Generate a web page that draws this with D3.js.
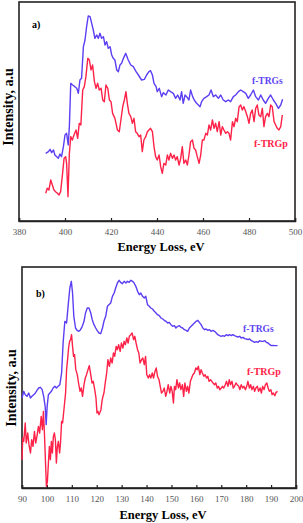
<!DOCTYPE html>
<html>
<head>
<meta charset="utf-8">
<style>
html, body { margin:0; padding:0; background:#fff; }
svg { display:block; }
</style>
</head>
<body>
<div id="chart"></div>
<script src="https://cdn.jsdelivr.net/npm/d3@7"></script>
<script>
// panel a) : energy loss (eV), intensity (a.u)
var aTicks = [380, 400, 420, 440, 460, 480, 500];
var aTRGs = [[391.6,203],[392.8,208],[393.5,215],[394.2,205],[395,213],[395.6,198],[397.1,188],[397.8,201],[398.5,193],[399.3,223],[400,258],[400.7,263],[401.4,228],[401.9,283],[402.5,413],[403.3,408],[404.3,403],[405.1,398],[405.8,383],[406.5,423],[407.2,428],[408,523],[408.7,543],[409.4,583],[410.1,615],[410.9,613],[411.6,593],[412.3,573],[413,548],[413.8,558],[414.5,548],[415.2,563],[415.9,548],[416.7,553],[417.4,528],[418.1,538],[418.8,518],[419.6,523],[420.3,498],[421,488],[421.7,483],[422.5,453],[423.2,448],[423.9,468],[424.6,473],[425.4,488],[426.4,503],[427.5,483],[428.6,468],[429.7,463],[430.9,448],[431.9,438],[433.3,423],[434.5,425],[435.5,438],[436.5,448],[437.2,451],[438,438],[438.7,413],[439.6,403],[440.1,388],[441,398],[442,373],[442.8,385],[443.9,378],[444.9,393],[445.9,388],[447.1,383],[448.1,368],[449,378],[450,363],[450.7,388],[451.4,353],[452.2,378],[452.9,373],[453.9,363],[454.6,393],[455.5,373],[456.2,363],[457.2,353],[458,348],[458.7,343],[459.4,358],[460.4,368],[461.6,373],[462.6,378],[463.5,393],[464.5,373],[465.5,378],[466.7,368],[467.7,378],[468.8,363],[469.9,358],[471,363],[472,358],[473.2,373],[474.2,378],[475.4,388],[476.4,393],[477.5,388],[478.6,383],[479.7,368],[480.7,378],[481.9,393],[482.9,373],[484.1,363],[485.1,378],[486.2,363],[487.2,353],[488.4,368],[489.4,378],[490.6,363],[491.6,353],[492.8,338],[493.8,348],[494.6,365]];
var aTRGp = [[391.6,83],[392.3,98],[393,93],[393.8,123],[394.5,108],[395.2,93],[395.9,88],[396.7,83],[397.4,78],[398.1,88],[398.8,133],[399.6,188],[400.3,193],[400.7,173],[401.3,73],[401.9,203],[402.5,253],[403.2,243],[403.9,258],[404.8,273],[405.5,248],[406.2,293],[406.9,288],[407.7,393],[408.4,403],[409.1,433],[409.9,488],[410.6,483],[411.3,453],[412,468],[412.8,418],[413.5,398],[414.2,413],[414.9,393],[415.7,398],[416.4,363],[417.1,358],[417.8,408],[418.6,398],[419.3,363],[420,358],[420.7,323],[421.7,308],[422.8,273],[423.6,268],[424.3,303],[425.1,343],[425.8,363],[426.5,388],[427.1,353],[427.8,323],[428.6,313],[429.3,293],[430,308],[430.7,268],[431.4,263],[432.2,253],[432.9,258],[433.6,208],[434.3,243],[435.1,253],[435.8,268],[436.5,273],[437.2,278],[438,268],[438.7,223],[439.4,193],[440.1,183],[440.9,198],[441.6,163],[442.3,143],[443,173],[443.8,168],[444.5,198],[445.2,183],[445.9,203],[446.7,188],[447.4,198],[448.1,183],[448.8,193],[449.6,168],[450.3,188],[451,223],[451.7,173],[452.5,183],[453.2,168],[453.9,198],[454.6,238],[455.4,243],[456.1,218],[456.8,213],[457.5,193],[458.3,173],[459,198],[459.7,243],[460.4,243],[461.2,263],[461.9,258],[462.6,288],[463.3,273],[464.1,303],[464.8,278],[465.5,293],[466.2,268],[467,298],[467.7,258],[468.4,283],[469.1,273],[469.9,263],[470.6,268],[471.3,263],[472,243],[472.8,298],[473.5,283],[474.2,308],[474.9,298],[475.7,343],[476.4,348],[477.1,333],[477.8,343],[478.6,328],[479.3,313],[480,293],[480.7,323],[481.4,333],[482.2,298],[482.9,338],[483.6,348],[484.3,318],[485.1,313],[485.8,338],[486.5,283],[487.2,313],[488,323],[488.7,313],[489.4,348],[490.1,343],[490.9,298],[491.6,288],[492.3,278],[493,273],[493.8,283],[494.5,318]];

// panel b)
var bTicks = [90, 100, 110, 120, 130, 140, 150, 160, 170, 180, 190, 200];
var bTRGs = [[90,270],[90.7,290],[91.3,280],[92,275],[92.7,285],[93.4,270],[94,275],[94.7,280],[95.4,285],[96,293],[96.7,300],[97.4,302],[98.1,295],[98.7,275],[99.3,245],[99.7,190],[100.1,245],[100.6,280],[101.2,285],[101.8,290],[102.5,300],[103.2,305],[103.8,300],[104.5,305],[105.2,310],[105.9,345],[106.5,435],[107.2,500],[107.9,495],[108.5,545],[109.2,600],[109.8,620],[110.3,585],[110.8,515],[111.5,480],[112.2,472],[112.8,470],[113.5,475],[114.2,485],[114.9,500],[115.5,525],[116.2,540],[116.9,540],[117.6,525],[118.2,505],[118.9,490],[119.6,480],[120.2,472],[120.9,465],[121.6,463],[122.3,480],[122.9,500],[123.6,515],[124.3,545],[124.9,550],[125.6,555],[126.3,575],[127,585],[127.6,600],[128.3,615],[129,623],[129.6,617],[130.3,613],[131,620],[131.7,615],[132.3,620],[133,617],[133.7,623],[134.4,620],[135,615],[135.7,605],[136.4,590],[137.1,580],[137.7,585],[138.4,575],[139.1,570],[139.7,575],[140.4,550],[141.1,545],[141.7,540],[142.4,537],[143.1,530],[143.8,525],[144.4,520],[145.1,517],[145.8,510],[146.5,507],[147.1,503],[147.8,500],[148.5,495],[149.1,497],[149.8,490],[150.5,485],[151.2,487],[151.8,480],[152.5,485],[153.2,487],[153.8,482],[154.5,480],[155.2,475],[155.9,473],[156.5,470],[157.2,480],[157.9,485],[158.5,490],[159.2,495],[159.9,500],[160.6,503],[161.2,497],[161.9,490],[162.6,480],[163.3,475],[163.9,477],[164.6,473],[165.3,475],[165.9,470],[166.6,473],[167.3,470],[168,465],[168.6,460],[169.3,457],[170,455],[170.6,457],[171.3,455],[172,460],[172.7,457],[173.3,460],[174,457],[174.7,460],[175.3,457],[176,455],[176.7,453],[177.4,455],[178,450],[178.7,452],[179.4,448],[180.1,447],[180.7,445],[181.4,447],[182.1,442],[182.7,440],[183.4,437],[184.1,439],[184.8,437],[185.4,442],[186.1,440],[186.8,440],[187.5,442],[188.1,437],[188.8,435],[189.5,430],[190.1,427],[190.8,428],[191.5,427],[192.6,427]];
var bTRGp = [[90,85],[90.3,150],[90.7,140],[91.3,195],[91.7,135],[92.3,165],[92.8,130],[93.4,105],[93.9,145],[94.4,125],[95,170],[95.5,135],[96,155],[96.6,185],[97.1,165],[97.7,215],[98.2,175],[98.6,230],[99,165],[99.4,85],[99.8,5],[100.2,20],[100.6,75],[101,125],[101.4,85],[101.8,140],[102.2,105],[102.6,155],[103,165],[103.4,145],[103.8,75],[104.2,125],[104.6,140],[105.1,105],[105.5,140],[105.9,200],[106.3,195],[106.7,225],[107.1,255],[107.5,285],[107.9,355],[108.3,385],[108.7,420],[109.1,440],[109.5,445],[109.9,460],[110.3,425],[110.7,395],[111.1,400],[111.6,355],[112.2,340],[112.7,315],[113.3,290],[113.8,300],[114.3,275],[114.9,310],[115.4,330],[115.9,340],[116.5,355],[117,367],[117.6,340],[118.1,315],[118.6,320],[119.2,295],[119.7,270],[120.1,225],[120.5,230],[120.9,220],[121.3,227],[121.7,235],[122.1,260],[122.5,275],[122.9,285],[123.5,320],[124,345],[124.5,385],[125.1,365],[125.6,390],[126.2,375],[126.7,405],[127.2,395],[127.8,425],[128.3,415],[128.8,430],[129.4,410],[129.9,435],[130.5,420],[131,440],[131.5,430],[132.1,450],[132.6,435],[133.1,455],[133.7,460],[134.2,465],[134.8,445],[135.3,455],[135.8,435],[136.4,415],[136.9,405],[137.4,375],[138,385],[138.5,390],[139.1,370],[139.6,395],[140.1,340],[140.7,330],[141.2,340],[141.7,330],[142.3,345],[142.8,330],[143.4,350],[143.9,360],[144.4,335],[145,325],[145.5,305],[146,285],[146.6,290],[147.1,300],[147.7,275],[148.2,290],[148.7,310],[149.3,285],[149.8,305],[150.3,290],[150.8,255],[151.2,305],[151.7,295],[152.2,325],[152.8,300],[153.3,315],[153.8,295],[154.4,310],[154.9,275],[155.4,315],[156,290],[156.5,305],[157,285],[157.6,320],[158.1,330],[158.6,340],[159.2,345],[159.8,360],[160.3,355],[160.8,365],[161.4,340],[161.9,355],[162.4,345],[163,335],[163.5,340],[164.1,330],[164.6,335],[165.1,320],[165.7,325],[166.2,320],[166.7,315],[167.3,310],[167.8,315],[168.4,300],[168.9,305],[169.4,295],[170,300],[170.5,305],[171,300],[171.6,310],[172.1,320],[172.7,305],[173.2,325],[173.7,310],[174.3,320],[174.8,300],[175.3,305],[175.9,315],[176.4,310],[177,305],[177.5,295],[178,310],[178.6,300],[179.1,305],[179.7,295],[180.2,305],[180.7,320],[181.3,300],[181.8,310],[182.3,295],[182.9,305],[183.4,290],[183.9,300],[184.5,305],[185,290],[185.6,300],[186.1,285],[186.6,305],[187.2,295],[187.7,310],[188.3,315],[188.8,300],[189.3,290],[189.9,295],[190.4,280],[190.9,285],[191.5,277],[192,287],[192.6,290]];

var blue = "#5b3ff2", red = "#ff2248";
var serif = "'Liberation Serif','Times New Roman',serif";

var svg = d3.select("#chart").append("svg")
    .attr("width", 303).attr("height", 523);

drawPanel({
  left:19, right:295, top:2, bottom:221,
  xDomain:[380,500], yMax:657, ticks:aTicks,
  tag:"a)", tagX:32, tagY:28,
  sData:aTRGs, pData:aTRGp,
  sLab:[252,84], pLab:[254,147],
  xTitleY:251, yTitleY:107
});
drawPanel({
  left:22, right:296, top:267, bottom:488,
  xDomain:[90,200], yMax:663, ticks:bTicks,
  tag:"b)", tagX:36, tagY:297,
  sData:bTRGs, pData:bTRGp,
  sLab:[243,332], pLab:[247,375],
  xTitleY:519, yTitleY:388
});

function drawPanel(c){
  var x = d3.scaleLinear().domain(c.xDomain).range([c.left, c.right]);
  var y = d3.scaleLinear().domain([0, c.yMax]).range([c.bottom, c.top]);
  var g = svg.append("g");

  // frame
  g.append("rect")
    .attr("x", c.left).attr("y", c.top)
    .attr("width", c.right - c.left).attr("height", c.bottom - c.top)
    .attr("fill", "none").attr("stroke", "#222").attr("stroke-width", 1.6);

  var ax = g.append("g")
    .attr("transform", `translate(0,${c.bottom})`)
    .call(d3.axisBottom(x).tickValues(c.ticks).tickSize(-3).tickPadding(8));
  ax.select(".domain").attr("stroke", "#222").attr("stroke-width", 1.6);
  ax.selectAll(".tick line").attr("stroke", "#222").attr("stroke-width", 1.2);
  ax.selectAll("text")
    .attr("font-family", serif).attr("font-size", 9).attr("fill", "#555");

  var line = d3.line().x(d => x(d[0])).y(d => y(d[1]));
  g.append("path").datum(c.sData).attr("d", line)
    .attr("fill", "none").attr("stroke", blue).attr("stroke-width", 1.4)
    .attr("stroke-linejoin", "round");
  g.append("path").datum(c.pData).attr("d", line)
    .attr("fill", "none").attr("stroke", red).attr("stroke-width", 1.4)
    .attr("stroke-linejoin", "round");

  g.append("text").attr("x", c.tagX).attr("y", c.tagY).text(c.tag)
    .attr("font-family", serif).attr("font-weight", "bold").attr("font-size", 10);
  g.append("text").attr("x", c.sLab[0]).attr("y", c.sLab[1]).text("f-TRGs")
    .attr("font-family", serif).attr("font-weight", "bold").attr("font-size", 9.5)
    .attr("fill", blue);
  g.append("text").attr("x", c.pLab[0]).attr("y", c.pLab[1]).text("f-TRGp")
    .attr("font-family", serif).attr("font-weight", "bold").attr("font-size", 10)
    .attr("fill", red);

  g.append("text")
    .attr("x", (c.left + c.right) / 2 + 4).attr("y", c.xTitleY)
    .attr("text-anchor", "middle").text("Energy Loss, eV")
    .attr("font-family", serif).attr("font-weight", "bold").attr("font-size", 12.5);
  g.append("text")
    .attr("transform", `translate(${c.left - 6},${c.yTitleY}) rotate(-90)`)
    .attr("text-anchor", "middle").text("Intensity, a.u")
    .attr("font-family", serif).attr("font-weight", "bold").attr("font-size", 14);
}
</script>
</body>
</html>
